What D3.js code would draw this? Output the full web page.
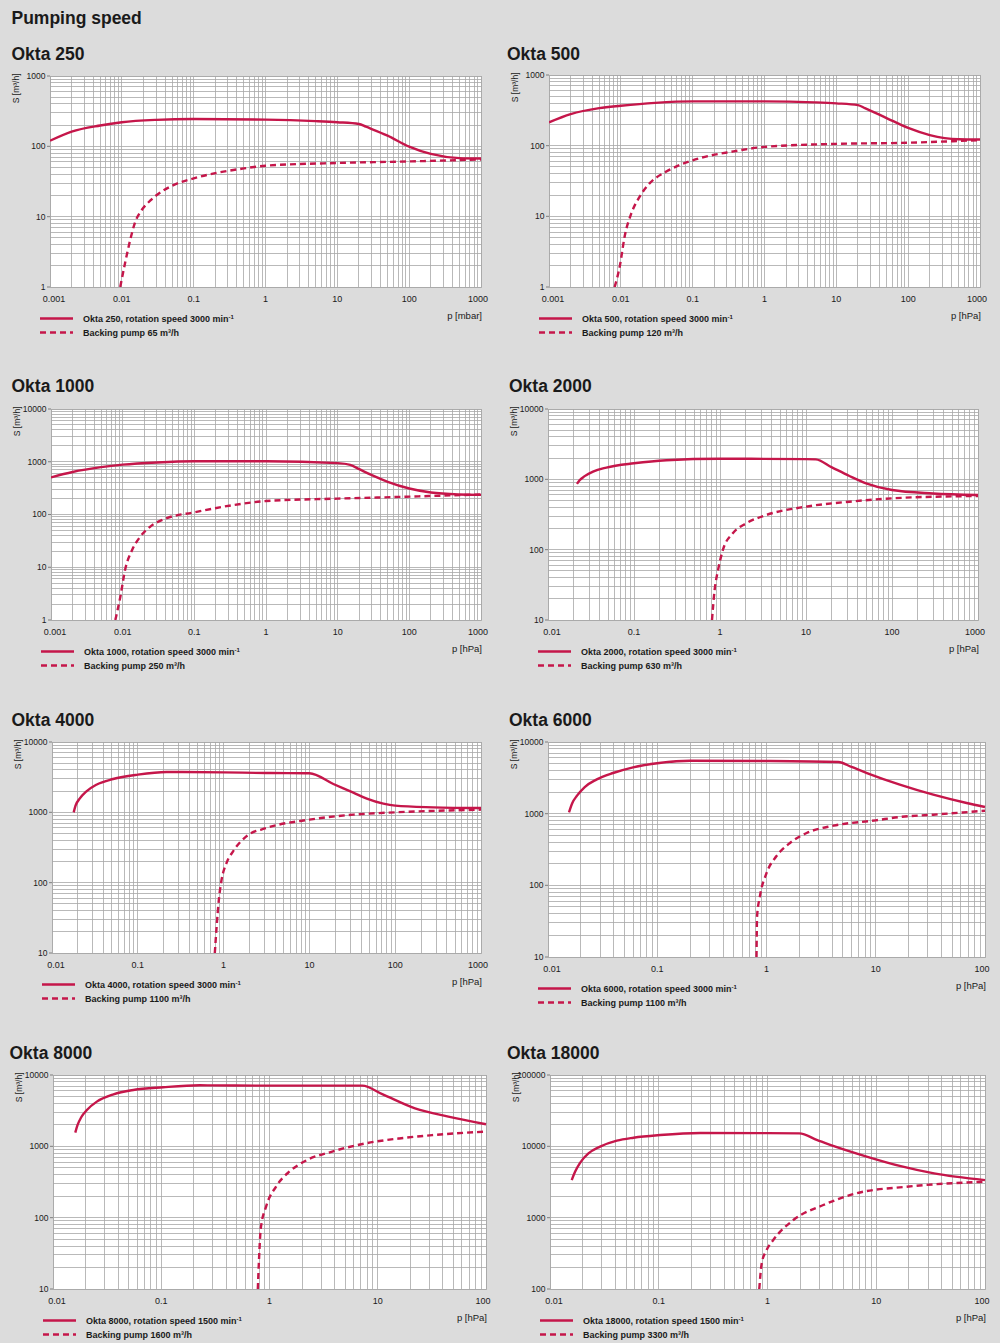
<!DOCTYPE html>
<html><head><meta charset="utf-8">
<script src="https://cdn.jsdelivr.net/npm/d3@7"></script>
<style>
body{margin:0;background:#dcdcdc;}
svg{display:block;font-family:"Liberation Sans",Arial,Helvetica,sans-serif;}
</style></head><body>
<svg id="c" width="1000" height="1343"></svg>
<script>
// ---------- DATA ----------
const mainTitle = "Pumping speed";
const titles = ["Okta 250","Okta 500","Okta 1000","Okta 2000","Okta 4000","Okta 6000","Okta 8000","Okta 18000"];
const pumpLabels = ["Okta 250, rotation speed 3000 min","Okta 500, rotation speed 3000 min","Okta 1000, rotation speed 3000 min","Okta 2000, rotation speed 3000 min","Okta 4000, rotation speed 3000 min","Okta 6000, rotation speed 3000 min","Okta 8000, rotation speed 1500 min","Okta 18000, rotation speed 1500 min"];
const backingLabels = ["Backing pump 65 m³/h","Backing pump 120 m³/h","Backing pump 250 m³/h","Backing pump 630 m³/h","Backing pump 1100 m³/h","Backing pump 1100 m³/h","Backing pump 1600 m³/h","Backing pump 3300 m³/h"];
const unitLabels = ["p [mbar]","p [hPa]","p [hPa]","p [hPa]","p [hPa]","p [hPa]","p [hPa]","p [hPa]"];
const yTitle = "S [m³/h]";

const xDomains = [[0.001,1000],[0.001,1000],[0.001,1000],[0.01,1000],[0.01,1000],[0.01,100],[0.01,100],[0.01,100]];
const yDomains = [[1,1000],[1,1000],[1,10000],[10,10000],[10,10000],[10,10000],[10,10000],[100,100000]];
const xTickLabels = [
  ["0.001","0.01","0.1","1","10","100","1000"],
  ["0.001","0.01","0.1","1","10","100","1000"],
  ["0.001","0.01","0.1","1","10","100","1000"],
  ["0.01","0.1","1","10","100","1000"],
  ["0.01","0.1","1","10","100","1000"],
  ["0.01","0.1","1","10","100"],
  ["0.01","0.1","1","10","100"],
  ["0.01","0.1","1","10","100"]];
const yTickLabels = [
  ["1","10","100","1000"],
  ["1","10","100","1000"],
  ["1","10","100","1000","10000"],
  ["10","100","1000","10000"],
  ["10","100","1000","10000"],
  ["10","100","1000","10000"],
  ["10","100","1000","10000"],
  ["100","1000","10000","100000"]];

// series: [pressure, pumping speed]
const okta250Pump = [[0.001,120],[0.002,162],[0.005,198],[0.01,220],[0.03,238],[0.1,245],[1,240],[5,228],[10,220],[20,208],[25,190],[50,142],[100,99],[200,78],[500,68],[1000,67]];
const okta250Backing = [[0.0095,1],[0.0111,2.2],[0.0131,4.7],[0.0154,8.5],[0.018,11.5],[0.025,17],[0.03,20],[0.05,27.5],[0.1,35],[0.2,41.5],[0.5,48.5],[1,53],[10,58],[100,61],[1000,65]];
const okta500Pump = [[0.001,214],[0.002,280],[0.005,340],[0.01,367],[0.03,403],[0.1,423],[1,423],[5,410],[10,397],[20,375],[25,340],[50,246],[100,178],[200,141],[500,123],[1000,122]];
const okta500Backing = [[0.0082,1],[0.0097,2],[0.0113,5.2],[0.014,11],[0.0183,19],[0.0253,29.5],[0.043,43],[0.1,62],[0.37,83],[1,96],[10,106],[100,110],[1000,120]];
const okta1000Pump = [[0.001,505],[0.002,640],[0.005,790],[0.01,880],[0.03,970],[0.1,1020],[1,1020],[10,940],[15,873],[20,724],[30,557],[50,417],[100,311],[200,261],[500,240],[1000,236]];
const okta1000Backing = [[0.0079,1],[0.0093,2.8],[0.0108,8.9],[0.0135,21],[0.0176,38],[0.0243,59],[0.0413,85],[0.1,110],[0.35,151],[1,180],[10,200],[100,218],[1000,240]];
const okta2000Pump = [[0.0217,860],[0.0233,970],[0.0267,1110],[0.0334,1290],[0.0477,1470],[0.1,1690],[0.238,1870],[1,1960],[10,1940],[13,1920],[20,1480],[32,1115],[50,877],[100,705],[300,630],[1000,598]];
const okta2000Backing = [[0.807,10],[0.866,26.7],[0.948,51],[1.08,99],[1.41,171],[2.02,237],[3.45,311],[10,409],[32,481],[100,537],[1000,580]];
const okta4000Pump = [[0.0179,1000],[0.0188,1245],[0.021,1563],[0.0252,1990],[0.0329,2472],[0.0515,2977],[0.1,3436],[0.216,3743],[1,3700],[3.15,3620],[10,3600],[19,2530],[32.5,1905],[46.7,1564],[72.7,1327],[100,1244],[278,1178],[1000,1150]];
const okta4000Backing = [[0.79,10],[0.83,24],[0.88,57],[0.94,104],[1.08,190],[1.29,279],[1.84,456],[3.17,599],[10,787],[32.5,927],[100,1000],[1000,1091]];
const okta6000Pump = [[0.01557,1045],[0.0167,1410],[0.01844,1784],[0.02168,2355],[0.0277,2986],[0.0394,3693],[0.0601,4436],[0.104,5093],[0.2,5480],[1,5430],[4.55,5260],[6,4480],[8.3,3690],[16.6,2540],[33.6,1841],[67.9,1409],[100,1240]];
const okta6000Backing = [[0.81,10],[0.82,36.9],[0.87,70],[1.0,148],[1.23,254],[1.64,390],[2.33,537],[4.1,680],[10,807],[16.6,898],[33.6,968],[100,1100]];
const okta8000Pump = [[0.01606,1560],[0.01687,1995],[0.01823,2556],[0.02056,3237],[0.0254,4233],[0.0362,5360],[0.0553,6166],[0.1043,6724],[0.227,7168],[1,7090],[7.2,7090],[11,5400],[22.1,3410],[44.9,2610],[100,2040]];
const okta8000Backing = [[0.78,10],[0.8,26],[0.83,70],[0.93,143],[1.15,273],[1.53,444],[2.17,631],[3.8,845],[7.7,1100],[15.8,1290],[31.8,1435],[100,1610]];
const okta18000Pump = [[0.01584,3357],[0.017,4398],[0.0189,5876],[0.02256,7946],[0.0289,9900],[0.0412,12000],[0.0587,13200],[0.103,14387],[0.241,15400],[1,15300],[1.96,15200],[2.87,12250],[4.08,10070],[8.3,7130],[16.8,5270],[34,4170],[100,3360]];
const okta18000Backing = [[0.84,100],[0.885,229],[0.98,350],[1.13,486],[1.73,927],[3.26,1505],[6.6,2197],[19,2718],[100,3192]];

const pumpSeries = [okta250Pump,okta500Pump,okta1000Pump,okta2000Pump,okta4000Pump,okta6000Pump,okta8000Pump,okta18000Pump];
const backingSeries = [okta250Backing,okta500Backing,okta1000Backing,okta2000Backing,okta4000Backing,okta6000Backing,okta8000Backing,okta18000Backing];

// ---------- LAYOUT / STYLE ----------
const layout = [
 {l:50,r:481,t:76,b:287,tx:11.5,ty:60},
 {l:549,r:980,t:75,b:287,tx:507,ty:60},
 {l:51,r:481,t:409,b:620,tx:11.5,ty:391.5},
 {l:548,r:978,t:409,b:620,tx:509,ty:391.5},
 {l:52,r:481,t:742,b:953,tx:11.5,ty:725.5},
 {l:548,r:985,t:742,b:957,tx:509,ty:725.5},
 {l:53,r:486,t:1075,b:1289,tx:9.5,ty:1059},
 {l:550,r:985,t:1075,b:1289,tx:507,ty:1059}
];
const RED = "#c5164a";
const GRID = "#a8a8a8";
const TEXT = "#1a1a1a";
const LW = 2.4;

const svg = d3.select("#c");
svg.append("rect").attr("width",1000).attr("height",1343).attr("fill","#dcdcdc");
svg.append("text").attr("x",11.5).attr("y",24).attr("font-size",17.5).attr("font-weight","bold")
   .attr("fill",TEXT).text(mainTitle);

layout.forEach((L,i)=>{
  const x = d3.scaleLog().domain(xDomains[i]).range([L.l,L.r]);
  const y = d3.scaleLog().domain(yDomains[i]).range([L.b,L.t]);
  const g = svg.append("g");

  g.append("text").attr("x",L.tx).attr("y",L.ty).attr("font-size",17.5).attr("font-weight","bold")
   .attr("fill",TEXT).text(titles[i]);

  g.append("rect").attr("x",L.l).attr("y",L.t).attr("width",L.r-L.l).attr("height",L.b-L.t).attr("fill","#fff");

  // grid
  const xt = x.ticks(), yt = y.ticks();
  g.append("g").selectAll("line").data(xt).join("line")
    .attr("x1",d=>x(d)).attr("x2",d=>x(d)).attr("y1",L.t).attr("y2",L.b)
    .attr("stroke",GRID).attr("stroke-width",0.8).attr("shape-rendering","crispEdges");
  g.append("g").selectAll("line").data(yt).join("line")
    .attr("y1",d=>y(d)).attr("y2",d=>y(d)).attr("x1",L.l).attr("x2",L.r)
    .attr("stroke",GRID).attr("stroke-width",0.8).attr("shape-rendering","crispEdges");
  g.append("rect").attr("x",L.l).attr("y",L.t).attr("width",L.r-L.l).attr("height",L.b-L.t)
    .attr("fill","none").attr("stroke",GRID).attr("stroke-width",0.8).attr("shape-rendering","crispEdges");

  // x axis labels
  const xMaj = xt.filter(d=>Math.abs(Math.log10(d)-Math.round(Math.log10(d)))<1e-9);
  const nx = xMaj.length;
  g.append("g").selectAll("text").data(xMaj).join("text")
    .attr("x",(d,k)=>x(d)+(k===0?4:(k===nx-1?-3:0)))
    .attr("y",L.b+14.5).attr("text-anchor","middle").attr("font-size",9).attr("fill",TEXT)
    .text((d,k)=>xTickLabels[i][k]);

  // y axis labels and ticks
  const yMaj = yt.filter(d=>Math.abs(Math.log10(d)-Math.round(Math.log10(d)))<1e-9);
  g.append("g").selectAll("text").data(yMaj).join("text")
    .attr("x",L.l-4.5).attr("y",d=>y(d)).attr("dy","0.34em").attr("text-anchor","end")
    .attr("font-size",8.5).attr("fill",TEXT).text((d,k)=>yTickLabels[i][k]);
  g.append("g").selectAll("line").data(yMaj).join("line")
    .attr("x1",L.l-3).attr("x2",L.l).attr("y1",d=>y(d)).attr("y2",d=>y(d))
    .attr("stroke","#666").attr("stroke-width",0.8);

  // y title
  g.append("text").attr("transform",`translate(${L.l-31},${L.t-2.5}) rotate(-90)`)
    .attr("text-anchor","end").attr("font-size",8.5).attr("fill",TEXT).text(yTitle);

  // curves
  const clipId = "clip"+i;
  svg.append("clipPath").attr("id",clipId).append("rect")
    .attr("x",L.l).attr("y",L.t-2).attr("width",L.r-L.l+2).attr("height",L.b-L.t+2);
  const line = d3.line().x(d=>x(d[0])).y(d=>y(d[1])).curve(d3.curveMonotoneX);
  const cg = g.append("g").attr("clip-path",`url(#${clipId})`);
  cg.append("path").attr("d",line(backingSeries[i])).attr("fill","none").attr("stroke",RED)
    .attr("stroke-width",LW).attr("stroke-dasharray","6,4");
  cg.append("path").attr("d",line(pumpSeries[i])).attr("fill","none").attr("stroke",RED)
    .attr("stroke-width",LW).attr("stroke-linejoin","round");

  // legend
  const ly1 = L.b+31.5, ly2 = L.b+45.5;
  g.append("line").attr("x1",L.l-10).attr("x2",L.l+23).attr("y1",ly1).attr("y2",ly1)
    .attr("stroke",RED).attr("stroke-width",LW);
  g.append("line").attr("x1",L.l-10).attr("x2",L.l+23).attr("y1",ly2).attr("y2",ly2)
    .attr("stroke",RED).attr("stroke-width",LW).attr("stroke-dasharray","6,4");
  const t1 = g.append("text").attr("x",L.l+33).attr("y",ly1+3).attr("font-size",9)
    .attr("font-weight","bold").attr("fill",TEXT).text(pumpLabels[i]);
  t1.append("tspan").attr("dy",-3).attr("font-size",6).text("-1");
  g.append("text").attr("x",L.l+33).attr("y",ly2+3).attr("font-size",9)
    .attr("font-weight","bold").attr("fill",TEXT).text(backingLabels[i]);
  g.append("text").attr("x",L.r+1).attr("y",L.b+32).attr("text-anchor","end")
    .attr("font-size",9.5).attr("fill",TEXT).text(unitLabels[i]);
});
</script>
</body></html>
